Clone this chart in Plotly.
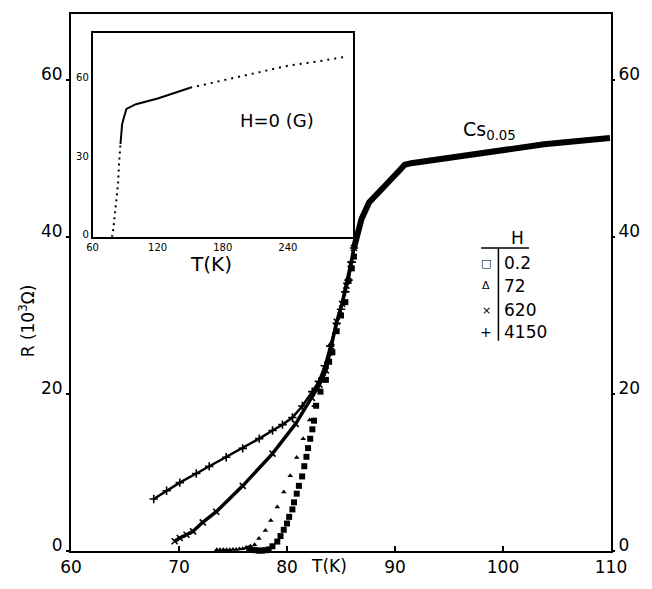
import plotly.graph_objects as go

# ---------------- data ----------------
# merged high-temperature part (all fields coincide)
upper_T = [86.2, 86.5, 86.9, 87.6, 88.5, 89.4, 90.3, 90.9, 91.5, 93.4, 97.7, 103.8, 109.9]
upper_R = [38.6, 40.2, 42.3, 44.4, 45.8, 47.0, 48.3, 49.2, 49.4, 49.8, 50.6, 51.8, 52.6]

# H = 0.2 G (squares)
sq_T = [76.5, 76.8, 77.1, 77.4, 77.7, 78.0, 78.3, 78.65, 79.1, 79.4, 79.7, 80.0, 80.2, 80.5,
        80.65, 80.9, 81.1, 81.4, 81.6, 81.8, 81.95, 82.15, 82.35, 82.5, 82.7, 83.1, 83.6,
        83.9, 84.2, 84.6, 85.0, 85.4, 85.7, 86.0, 86.2]
sq_R = [0.3, 0.15, 0.1, 0.05, 0.05, 0.1, 0.2, 0.6, 1.2, 1.9, 2.7, 3.5, 4.35, 5.3,
        6.2, 7.3, 8.3, 9.5, 10.8, 12.0, 13.1, 14.3, 15.5, 16.6, 18.5, 20.3, 21.8,
        24.1, 25.3, 28.0, 30.0, 31.7, 34.4, 36.0, 37.5]

# H = 72 G (triangles)
tr_T = [73.5, 73.8, 74.1, 74.4, 74.7, 75.0, 75.3, 75.6, 75.9, 76.2, 76.6, 77.0, 77.4, 78.0,
        78.5, 79.1, 79.7, 80.3, 80.9, 81.5, 82.1, 82.5, 82.95, 83.4, 83.9, 84.4, 84.9,
        85.4, 85.9, 86.2]
tr_R = [0.15, 0.15, 0.15, 0.15, 0.15, 0.2, 0.2, 0.25, 0.3, 0.4, 0.6, 0.8, 1.6, 2.6,
        3.9, 5.6, 7.5, 9.6, 11.9, 14.3, 16.7, 18.5, 20.5, 22.5, 25.0, 27.8, 30.5,
        33.2, 36.3, 38.6]

# H = 620 G (crosses x)
x620_T = [69.6, 70.07, 70.7, 71.3, 72.2, 73.45, 75.9, 78.66, 80.8, 82.3, 83.0, 83.6,
          84.1, 84.6, 85.1, 85.5, 85.9, 86.2]
x620_R = [1.24, 1.66, 2.07, 2.5, 3.65, 5.0, 8.3, 12.4, 16.2, 19.5, 21.2, 23.0,
          26.0, 29.2, 31.5, 33.8, 36.5, 38.6]

# H = 4150 G (plus)
p4150_T = [67.66, 68.85, 70.07, 71.6, 72.8, 74.37, 75.9, 77.43, 78.66, 79.58, 80.5, 81.42,
           82.34, 82.95, 83.5, 84.0, 84.6, 85.0, 85.4, 85.7, 86.0, 86.2]
p4150_R = [6.63, 7.67, 8.71, 9.87, 10.78, 11.95, 13.07, 14.31, 15.35, 16.1, 17.0, 18.46,
           20.3, 21.6, 23.6, 26.1, 29.0, 30.8, 33.0, 34.5, 36.8, 38.6]

# inset: H = 0 over wide range
inset_T = [77.5, 78.4, 79.8, 81.1, 82.1, 83.5, 84.4, 85.7, 87.2, 88.8, 91.2, 100, 120,
           150, 180, 210, 240, 270, 294]
inset_R = [0.0, 0.6, 5.6, 10.6, 15.6, 20.5, 28.0, 35.5, 43.0, 45.5, 48.9, 50.7, 52.9,
           57.0, 59.8, 62.6, 65.4, 67.2, 68.9]

main_xticks = [60, 70, 80, 90, 100, 110]
main_yticks = [0, 20, 40, 60]
inset_xticks = [60, 120, 180, 240]
inset_yticks = [0, 30, 60]
legend_fields = ["0.2", "72", "620", "4150"]
legend_glyphs = ["\u25a1", "\u0394", "\u00d7", "+"]

FONT = "DejaVu Sans"
W, H = 652, 589
L, R, T, B = 71, 39, 14, 26
PW, PH = W - L - R, H - T - B


def P(px, py):
    return (px - L) / PW, (H - B - py) / PH


fig = go.Figure()

# squares
fig.add_trace(go.Scatter(x=sq_T, y=sq_R, mode="markers",
                         marker=dict(symbol="square", size=6, color="black"),
                         showlegend=False, cliponaxis=False))
# triangles
fig.add_trace(go.Scatter(x=tr_T, y=tr_R, mode="markers",
                         marker=dict(symbol="triangle-up", size=5, color="black"),
                         showlegend=False, cliponaxis=False))
# 620 G
fig.add_trace(go.Scatter(x=x620_T, y=x620_R, mode="lines+markers",
                         line=dict(color="black", width=3.5),
                         marker=dict(symbol="x-thin", size=6, line=dict(width=1.6, color="black")),
                         showlegend=False, cliponaxis=False))
# 4150 G
fig.add_trace(go.Scatter(x=p4150_T, y=p4150_R, mode="lines+markers",
                         line=dict(color="black", width=2.5),
                         marker=dict(symbol="cross-thin", size=6, line=dict(width=1.6, color="black")),
                         showlegend=False, cliponaxis=False))
# merged upper curve
fig.add_trace(go.Scatter(x=upper_T, y=upper_R, mode="lines",
                         line=dict(color="black", width=6),
                         showlegend=False, cliponaxis=False))
# invisible trace to activate the right axis
fig.add_trace(go.Scatter(x=[upper_T[-1]], y=[upper_R[-1]], yaxis="y2", mode="markers",
                         marker=dict(opacity=0), hoverinfo="skip", showlegend=False))

# inset traces: dotted rise, solid knee, dotted tail
i_a, i_b = 7, 13
fig.add_trace(go.Scatter(x=inset_T[:i_a + 1], y=inset_R[:i_a + 1], xaxis="x3", yaxis="y3",
                         mode="lines", line=dict(color="black", width=2, dash="2px,4px"),
                         showlegend=False))
fig.add_trace(go.Scatter(x=inset_T[i_a:i_b + 1], y=inset_R[i_a:i_b + 1], xaxis="x3", yaxis="y3",
                         mode="lines", line=dict(color="black", width=2),
                         showlegend=False))
fig.add_trace(go.Scatter(x=inset_T[i_b:], y=inset_R[i_b:], xaxis="x3", yaxis="y3",
                         mode="lines", line=dict(color="black", width=2, dash="2px,5px"),
                         showlegend=False))

tickfont = dict(family=FONT, size=17, color="black")
small = dict(family=FONT, size=10, color="black")

fig.update_layout(
    width=W, height=H,
    margin=dict(l=L, r=R, t=T, b=B),
    paper_bgcolor="white", plot_bgcolor="white",
    font=dict(family=FONT, color="black"),
    xaxis=dict(range=[60, 110], tickvals=main_xticks, showline=True, linewidth=2,
               linecolor="black", mirror=True, ticks="inside", ticklen=5, tickwidth=1.5,
               tickcolor="black", showgrid=False, zeroline=False, tickfont=tickfont),
    yaxis=dict(range=[0, 68.4], tickvals=main_yticks, showline=True, linewidth=2,
               linecolor="black", mirror=True, ticks="outside", ticklen=3, tickwidth=2,
               tickcolor="black", showgrid=False, zeroline=False, tickfont=tickfont,
               ticklabelshift=-6),
    yaxis2=dict(range=[0, 68.4], tickvals=main_yticks, overlaying="y", side="right",
                showline=False, ticks="outside", ticklen=3, tickwidth=2, tickcolor="black",
                showgrid=False, zeroline=False, tickfont=tickfont, ticklabelshift=-6),
    xaxis3=dict(domain=[0.040, 0.522], anchor="y3", range=[60, 300], tickvals=inset_xticks,
                showline=True, linewidth=1.5, linecolor="black", mirror=True, ticks="",
                showgrid=False, zeroline=False, tickfont=small),
    yaxis3=dict(domain=[0.585, 0.965], anchor="x3", range=[0, 78], tickvals=inset_yticks,
                showline=True, linewidth=1.5, linecolor="black", mirror=True, ticks="",
                showgrid=False, zeroline=False, tickfont=small, ticklabelshift=-2),
)

ann = []


def text(px, py, s, size, xanchor="center", yanchor="middle", angle=0):
    x, y = P(px, py)
    ann.append(dict(x=x, y=y, xref="paper", yref="paper", text=s, showarrow=False,
                    xanchor=xanchor, yanchor=yanchor, textangle=angle,
                    font=dict(family=FONT, size=size, color="black")))


text(27, 328, "R (10<sup>3</sup>\u03a9)", 17, angle=-90)
text(330, 578, "T(K)", 17)
text(212, 270, "T(K)", 20)
text(278, 123, "H=0 (G)", 18)
text(462, 133, "Cs<sub>0.05</sub>", 19, xanchor="left")
text(519, 243, "H", 17)
rows_y = [269, 292, 317, 339]
for g, lab, yy in zip(legend_glyphs, legend_fields, rows_y):
    text(488, yy, g, 11 if g != "+" else 14)
    text(504, yy, lab, 17, xanchor="left")
fig.update_layout(annotations=ann)

hx0, hy = P(482.7, 253.3)
hx1, _ = P(530.7, 253.3)
vx, vy1 = P(500, 348)
fig.add_shape(type="line", xref="paper", yref="paper", x0=hx0, x1=hx1, y0=hy, y1=hy,
              line=dict(color="black", width=1.5))
fig.add_shape(type="line", xref="paper", yref="paper", x0=vx, x1=vx, y0=hy, y1=vy1,
              line=dict(color="black", width=1.5))

fig.write_html("out.html",
               config={"displayModeBar": False},
               post_script="document.body.style.margin='0';document.body.style.overflow='hidden';")
